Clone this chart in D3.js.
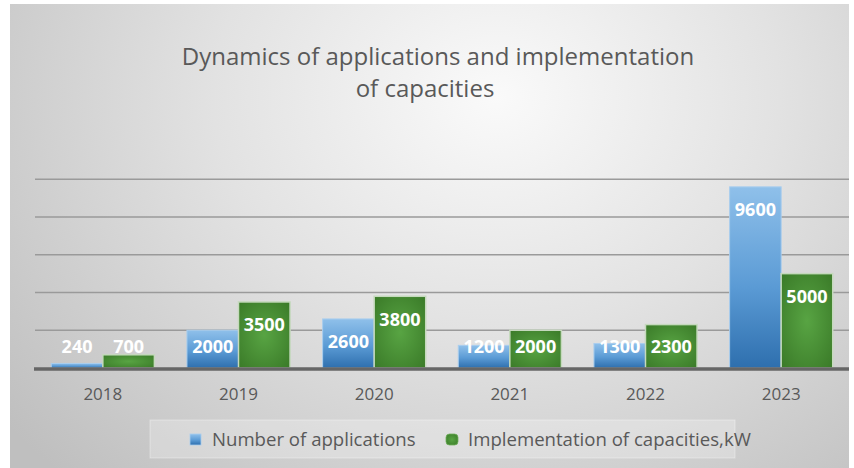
<!DOCTYPE html>
<html>
<head>
<meta charset="utf-8">
<script src="https://cdn.jsdelivr.net/npm/d3@7"></script>
<style>
  html, body { margin: 0; padding: 0; background: #ffffff; }
  svg { display: block; }
</style>
</head>
<body>
<script>
// ---- data ----
const years = ["2018", "2019", "2020", "2021", "2022", "2023"];
const applications = [240, 2000, 2600, 1200, 1300, 9600];
const capacities = [700, 3500, 3800, 2000, 2300, 5000];
const seriesNames = ["Number of applications", "Implementation of capacities,kW"];
const yTicks = [0, 2000, 4000, 6000, 8000, 10000];
const titleLines = ["Dynamics of applications and implementation", "of capacities"];

const W = 854, H = 468;
const svg = d3.select("body").append("svg").attr("width", W).attr("height", H);
const defs = svg.append("defs");

// background radial gradient
const bg = defs.append("radialGradient").attr("id", "bg")
  .attr("cx", "0.58").attr("cy", "0.2").attr("r", "0.75")
  .attr("gradientTransform", "translate(0.58,0.2) scale(1,1.5) translate(-0.58,-0.2)");
bg.append("stop").attr("offset", "0").attr("stop-color", "#fafafa");
bg.append("stop").attr("offset", "0.45").attr("stop-color", "#e2e2e2");
bg.append("stop").attr("offset", "1").attr("stop-color", "#bfbfbf");

const gBlue = defs.append("linearGradient").attr("id", "gBlue")
  .attr("x1", 0).attr("y1", 0).attr("x2", 0).attr("y2", 1);
gBlue.append("stop").attr("offset", "0").attr("stop-color", "#8fc0ea");
gBlue.append("stop").attr("offset", "0.55").attr("stop-color", "#5b9bd5");
gBlue.append("stop").attr("offset", "1").attr("stop-color", "#2e6fae");

const gGreen = defs.append("radialGradient").attr("id", "gGreen")
  .attr("cx", "0.5").attr("cy", "0.5").attr("r", "0.7");
gGreen.append("stop").attr("offset", "0").attr("stop-color", "#58a443");
gGreen.append("stop").attr("offset", "1").attr("stop-color", "#3a7a28");

svg.append("rect").attr("x", 10).attr("y", 4).attr("width", 839).attr("height", 464)
  .attr("fill", "url(#bg)");

// title
svg.append("text").attr("x", 438).attr("y", 65).attr("text-anchor", "middle")
  .attr("font-family", "Open Sans").attr("font-size", 24).attr("fill", "#595959")
  .text(titleLines[0]);
svg.append("text").attr("x", 425).attr("y", 96.5).attr("text-anchor", "middle")
  .attr("font-family", "Open Sans").attr("font-size", 24).attr("fill", "#595959")
  .text(titleLines[1]);

// scales
const x0 = d3.scaleBand().domain(years).range([35, 849]).paddingInner(0.24).paddingOuter(0.12);
const x1 = d3.scaleBand().domain([0, 1]).range([0, x0.bandwidth()]);
const y = d3.scaleLinear().domain([0, 10000]).range([368, 179.3]);

// gridlines
svg.append("g").selectAll("line").data(yTicks.filter(t => t > 0)).join("line")
  .attr("x1", 35).attr("x2", 849)
  .attr("y1", d => y(d)).attr("y2", d => y(d))
  .attr("stroke", "#9a9a9a").attr("stroke-width", 1.5);

// bars
const groups = svg.append("g").selectAll("g").data(years).join("g")
  .attr("transform", d => `translate(${x0(d)},0)`);

groups.append("rect")
  .attr("x", x1(0)).attr("width", x1.bandwidth())
  .attr("y", (d, i) => y(applications[i])).attr("height", (d, i) => y(0) - y(applications[i]))
  .attr("fill", "url(#gBlue)").attr("stroke", "#a9cdee").attr("stroke-width", 1);

groups.append("rect")
  .attr("x", x1(1)).attr("width", x1.bandwidth())
  .attr("y", (d, i) => y(capacities[i])).attr("height", (d, i) => y(0) - y(capacities[i]))
  .attr("fill", "url(#gGreen)").attr("stroke", "#c5d9bd").attr("stroke-width", 1.5);

// baseline
svg.append("line").attr("x1", 34).attr("x2", 849).attr("y1", y(0) + 1).attr("y2", y(0) + 1)
  .attr("stroke", "#666666").attr("stroke-width", 3.5);

// value labels
const labelY = v => Math.min(y(v) + 23, y(0) - 21.3);
[applications, capacities].forEach((vals, s) => {
  groups.append("text")
    .attr("x", x1(s) + x1.bandwidth() / 2)
    .attr("y", (d, i) => labelY(vals[i]))
    .attr("dy", "0.36em")
    .attr("text-anchor", "middle")
    .attr("font-family", "Open Sans").attr("font-weight", "bold").attr("font-size", 18)
    .attr("fill", "#ffffff")
    .text((d, i) => vals[i]);
});

// x axis
const xAxis = svg.append("g").attr("transform", `translate(0,${y(0)})`)
  .call(d3.axisBottom(x0).tickSize(0).tickPadding(0));
xAxis.select(".domain").remove();
xAxis.selectAll("text").attr("y", 32).attr("dy", 0)
  .attr("font-family", "Open Sans").attr("font-size", 17).attr("fill", "#595959");

// legend
const lg = svg.append("g");
lg.append("rect").attr("x", 150).attr("y", 420).attr("width", 585).attr("height", 38)
  .attr("fill", "#ffffff").attr("fill-opacity", 0.25)
  .attr("stroke", "#ffffff").attr("stroke-opacity", 0.35);
lg.append("rect").attr("x", 190).attr("y", 434).attr("width", 11).attr("height", 11)
  .attr("fill", "url(#gBlue)").attr("stroke", "#a9cdee").attr("stroke-width", 0.8);
lg.append("text").attr("x", 212).attr("y", 445.5).attr("font-family", "Open Sans")
  .attr("font-size", 18.6).attr("fill", "#595959").text(seriesNames[0]);
lg.append("rect").attr("x", 446).attr("y", 434).attr("width", 12).attr("height", 11)
  .attr("rx", 3.5).attr("fill", "url(#gGreen)").attr("stroke", "#6fae5a").attr("stroke-width", 0.8);
lg.append("text").attr("x", 468).attr("y", 445.5).attr("font-family", "Open Sans")
  .attr("font-size", 18.6).attr("fill", "#595959").text(seriesNames[1]);
</script>
</body>
</html>
